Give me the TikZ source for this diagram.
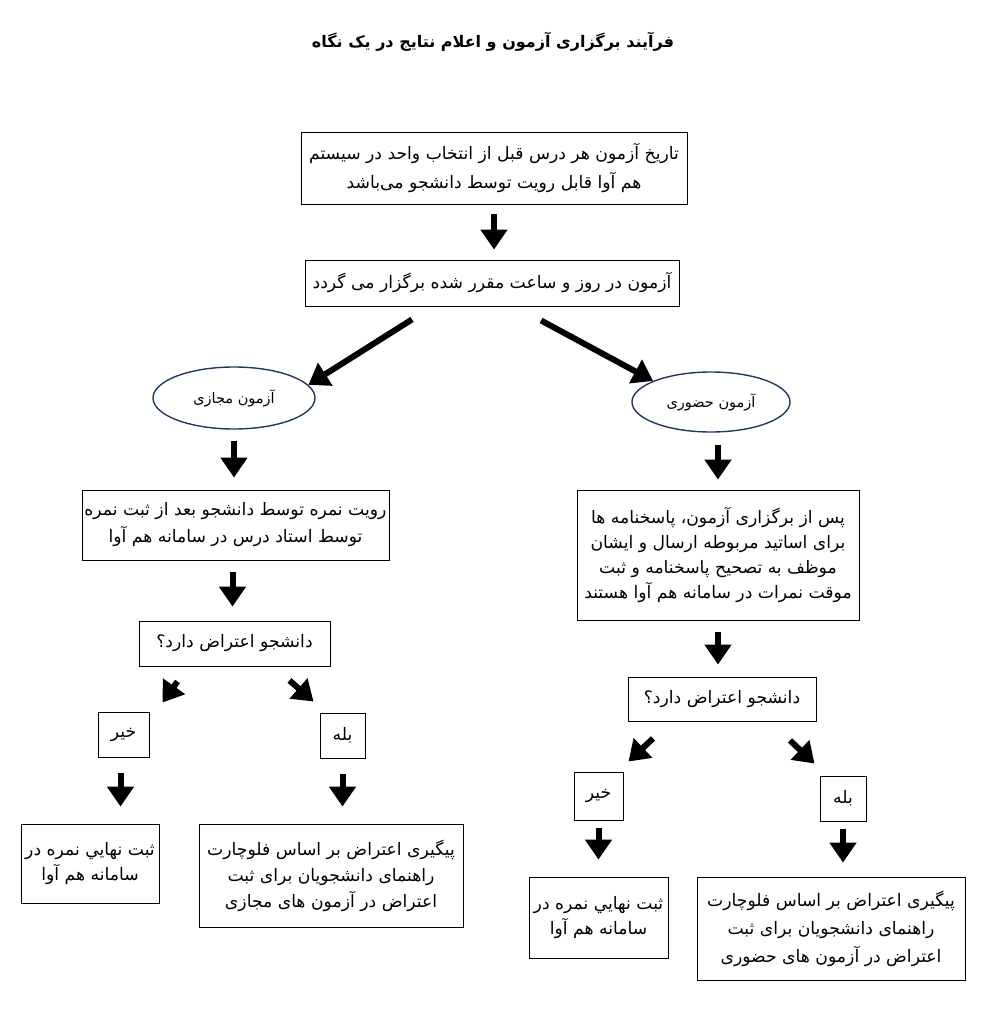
\documentclass[tikz,border=0pt]{standalone}
\usepackage{fontspec}
\usepackage{xcolor}
\usetikzlibrary{arrows.meta, positioning, calc, shapes.geometric}
\TeXXeTstate=1
\newfontfamily\arabicfont[Script=Arabic]{DejaVu Sans}
\newcommand{\fa}[1]{{\arabicfont\beginR #1\endR}}
\definecolor{enavy}{HTML}{1F3864}

\tikzset{
  stepbox/.style={draw=black, line width=0.9pt, align=center, inner sep=0pt,
    font=\fontsize{17.2}{27}\selectfont},
  examoval/.style={ellipse, draw=enavy, line width=1.4pt, inner sep=0pt,
    font=\fontsize{14.5}{18}\selectfont},
  bigarrow/.style={-{Triangle[width=26pt,length=20pt]}, line width=6pt},
}

\begin{document}
\begin{tikzpicture}[x=1pt, y=-1pt]

  \useasboundingbox (0,0) rectangle (987,1009);

  %% Title
  \node[font=\fontsize{16}{20}\selectfont\bfseries] (title) at (493,42)
    {\fa{فرآیند برگزاری آزمون و اعلام نتایج در یک نگاه}};

  %% Common trunk
  \node[stepbox, minimum width=386pt, minimum height=72pt,
    font=\fontsize{17.2}{29}\selectfont] (b1) at (494,168)
    {\fa{تاریخ آزمون هر درس قبل از انتخاب واحد در سیستم}\\
     \fa{هم آوا قابل رویت توسط دانشجو می‌باشد}};
  \node[stepbox, minimum width=374pt, minimum height=46pt] (b2) at (492,283)
    {\fa{آزمون در روز و ساعت مقرر شده برگزار می گردد}};

  %% Exam types
  \node[examoval, minimum width=162pt, minimum height=62pt] (eL) at (234,398)
    {\fa{آزمون مجازی}};
  \node[examoval, minimum width=158pt, minimum height=60pt] (eR) at (711,402)
    {\fa{آزمون حضوری}};

  %% Virtual exam branch
  \node[stepbox, minimum width=307pt, minimum height=70pt] (b3L) at (235.5,525)
    {\fa{رویت نمره توسط دانشجو بعد از ثبت نمره}\\
     \fa{توسط استاد درس در سامانه هم آوا}};
  \node[stepbox, minimum width=191pt, minimum height=45pt] (qL) at (234.5,643.5)
    {\fa{دانشجو اعتراض دارد؟}};
  \node[stepbox, minimum width=51pt, minimum height=45pt] (nL) at (123.5,734.5)
    {\fa{خیر}};
  \node[stepbox, minimum width=45pt, minimum height=45pt] (yL) at (342.5,735.5)
    {\fa{بله}};
  \node[stepbox, minimum width=138pt, minimum height=79pt,
    font=\fontsize{17.2}{25}\selectfont] (fL) at (90,863.5)
    {\fa{ثبت نهايي نمره در}\\ \fa{سامانه هم آوا}};
  \node[stepbox, minimum width=264pt, minimum height=103pt,
    font=\fontsize{17.2}{26}\selectfont] (pL) at (331,875.5)
    {\fa{پیگیری اعتراض بر اساس فلوچارت}\\
     \fa{راهنمای دانشجویان  برای ثبت}\\
     \fa{اعتراض در آزمون های مجازی}};

  %% In-person exam branch
  \node[stepbox, minimum width=282pt, minimum height=130pt,
    font=\fontsize{17.2}{25}\selectfont] (b3R) at (718,555)
    {\fa{پس از برگزاری آزمون، پاسخنامه ها}\\
     \fa{برای اساتید مربوطه ارسال و ایشان}\\
     \fa{موظف به تصحیح پاسخنامه و ثبت}\\
     \fa{موقت نمرات در سامانه هم آوا هستند}};
  \node[stepbox, minimum width=188pt, minimum height=44pt] (qR) at (722,699)
    {\fa{دانشجو اعتراض دارد؟}};
  \node[stepbox, minimum width=49pt, minimum height=48pt] (nR) at (598.5,796)
    {\fa{خیر}};
  \node[stepbox, minimum width=46pt, minimum height=45pt] (yR) at (843,798.5)
    {\fa{بله}};
  \node[stepbox, minimum width=139pt, minimum height=81pt,
    font=\fontsize{17.2}{25}\selectfont] (fR) at (598.5,917.5)
    {\fa{ثبت نهايي نمره در}\\ \fa{سامانه هم آوا}};
  \node[stepbox, minimum width=268pt, minimum height=103pt,
    font=\fontsize{17.2}{28}\selectfont] (pR) at (831,928.5)
    {\fa{پیگیری اعتراض بر اساس فلوچارت}\\
     \fa{راهنمای دانشجویان  برای ثبت}\\
     \fa{اعتراض در آزمون های حضوری}};

  %% Arrows
  \draw[bigarrow, shorten <=10pt, shorten >=10pt] (b1.south) -- (b1.south |- b2.north);
  \draw[bigarrow] ([xshift=-80pt, yshift=-13pt]b2.south) -- (eL.10);
  \draw[bigarrow] ([xshift=49pt, yshift=-14pt]b2.south) -- (eR.160);
  \draw[bigarrow, shorten <=11pt, shorten >=12pt] (eL.south) -- (eL.south |- b3L.north);
  \draw[bigarrow, shorten <=12pt, shorten >=10pt] (b3R.north |- eR.south) -- (b3R.north);
  \draw[bigarrow, shorten <=12pt, shorten >=14pt] ([xshift=-3pt]b3L.south) -- ([xshift=-3pt]b3L.south |- qL.north);
  \draw[bigarrow, shorten <=12pt, shorten >=12pt] (b3R.south) -- (b3R.south |- qR.north);
  \draw[bigarrow] ([xshift=-57pt, yshift=-15pt]qL.south) -- ([xshift=13pt, yshift=9pt]nL.north east);
  \draw[bigarrow] ([xshift=55pt, yshift=-14pt]qL.south) -- ([xshift=-6pt, yshift=11pt]yL.north west);
  \draw[bigarrow] ([xshift=-69pt, yshift=-17pt]qR.south) -- ([xshift=5pt, yshift=10pt]nR.north east);
  \draw[bigarrow] ([xshift=68pt, yshift=-19pt]qR.south) -- ([xshift=-5pt, yshift=12pt]yR.north west);
  \draw[bigarrow, shorten <=16pt, shorten >=17pt] ([xshift=-3pt]nL.south) -- ([xshift=-3pt]nL.south |- fL.north);
  \draw[bigarrow, shorten <=16pt, shorten >=17pt] (yL.south) -- (yL.south |- pL.north);
  \draw[bigarrow, shorten <=8pt, shorten >=17pt] (nR.south) -- (nR.south |- fR.north);
  \draw[bigarrow, shorten <=8pt, shorten >=14pt] (yR.south) -- (yR.south |- pR.north);

\end{tikzpicture}
\end{document}
